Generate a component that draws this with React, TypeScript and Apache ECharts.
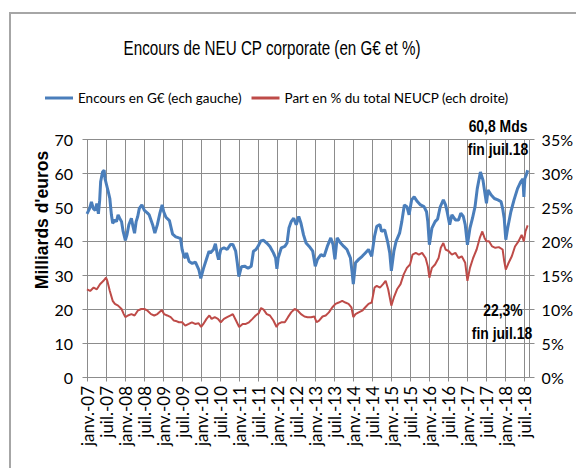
import React, { useEffect, useRef } from "react";
import * as echarts from "echarts";

// Months since January 2007 (0 = janv.-07)
const encoursMonths = [
  0, 0.8, 1.4, 2.0, 2.6, 3.1, 3.6, 4.0, 4.3, 4.9, 5.4, 5.7, 6.2, 6.7, 7.2, 7.7, 8.1, 8.8, 9.3, 9.8,
  10.3, 10.9, 11.4, 12.1, 12.6, 13.2, 14.0, 14.5, 15.0, 15.5, 16.0, 16.5, 17.3, 18.1, 19.1, 19.6,
  20.7, 21.4, 22.2, 23.0, 23.7, 24.2, 24.9, 26.0, 27.0, 28.0, 29.0, 29.5, 30.0, 30.6, 31.0, 31.4,
  32.2, 33.2, 34.2, 35.3, 35.9, 36.7, 37.8, 38.5, 38.9, 39.9, 40.5, 41.1, 41.5, 42.2, 43.2, 44.2,
  45.3, 46.0, 46.9, 47.4, 47.9, 48.7, 49.7, 50.8, 51.8, 52.5, 53.3, 54.0, 54.8, 55.7, 56.7, 57.7,
  58.8, 59.5, 59.9, 60.3, 61.3, 62.4, 63.1, 63.7, 64.4, 65.2, 66.0, 66.8, 67.5, 68.3, 69.1, 70.1,
  71.2, 72.0, 72.7, 73.8, 74.8, 75.8, 76.9, 77.6, 78.2, 78.9, 80.0, 81.0, 82.0, 83.1, 83.6, 84.0,
  84.7, 85.7, 86.8, 87.8, 88.8, 89.8, 90.7, 91.4, 92.4, 92.9, 93.9, 94.8, 95.5, 96.0, 96.8, 97.5,
  98.6, 99.3, 100.1, 100.9, 101.6, 102.4, 103.2, 104.2, 105.2, 106.3, 107.1, 107.5, 108.0, 108.8,
  109.8, 110.6, 111.4, 112.4, 113.1, 113.6, 114.4, 115.1, 116.2, 117.2, 117.9, 118.7, 119.3, 120.0,
  120.8, 121.6, 122.4, 123.1, 124.1, 124.9, 125.6, 126.0, 126.5, 127.5, 128.5, 129.6, 130.6, 131.1,
  131.6, 132.1, 132.7, 133.7, 134.7, 135.8, 136.8, 137.5, 137.8, 138.1, 138.6, 139.0,
];
// Encours en G€ (left scale)
const encoursValues = [
  48, 49.5, 51.5, 49.5, 49, 51, 48, 52, 57.4, 60.3, 60.8, 58.3, 56.4, 54.5, 52.5, 47.7, 45.2, 46.2, 45.7, 47.7,
  46.7, 45.7, 42.8, 40.2, 41.8, 44.8, 46.7, 44.3, 42.3, 45.7, 47.2, 49.6, 50.6, 49, 48.2, 47.7,
  44.8, 42.3, 44.8, 48.2, 50.6, 48.6, 47, 46, 42, 41.2, 40.9, 40.8, 37.5, 35.5, 35, 36.5,
  34, 33.4, 33.8, 31.5, 29, 31.8, 35, 37, 36.5, 37.5, 39.2, 36, 34.5, 37.5, 38, 37.5,
  39, 39, 37, 33.6, 29.5, 32.4, 32.6, 32, 32.6, 37, 37.5, 38.5, 40, 40.2, 39.4, 38.4,
  36.5, 35, 31.8, 35, 38, 38.4, 39.4, 43.8, 45.7, 46.7, 44.8, 47.2, 45.2, 41.8, 39.4, 38.4,
  37, 32.6, 34.6, 36, 35.5, 38.4, 40.9, 39, 34.6, 40.9, 39.4, 38.4, 37.5, 35, 31, 27.3,
  33.6, 34.6, 35.5, 36.5, 37.5, 35.5, 41.4, 44.3, 44.8, 42.8, 43.3, 39.9, 36.5, 31.2, 37, 39.9,
  42.3, 45.7, 50.6, 50.1, 47.7, 52.1, 53, 51.6, 50.6, 50.1, 48.6, 45.7, 38.9, 43.8,
  45.7, 46.5, 50, 52.1, 50.6, 48.6, 44.8, 47.7, 46.2, 46.2, 48.2, 47.2, 44.8, 38.9,
  43.8, 46.7, 50.1, 55.4, 60.3, 57.9, 53.5, 51.1, 55, 53.5, 52.5, 52.1, 51.6, 49.6,
  46.7, 40.4, 43.8, 48.6, 52.1, 55.4, 57.4, 58.3, 53, 58.3, 59.5, 60.8,
];

const partMonths = [
  0, 1, 2.1, 3.1, 4.1, 5.2, 6.0, 6.4, 7.2, 8.1, 8.8, 9.8, 10.9, 11.6, 12.1, 12.9, 14, 15, 16, 17.1,
  18.1, 19.1, 20.2, 21.2, 22.2, 23.6, 24.3, 25.3, 26.4, 27.4, 28, 29, 30, 31, 32.1, 33.1, 34.1, 35.2,
  36, 36.7, 37.7, 38.6, 39.3, 40.3, 41.3, 42.2, 43.2, 44.2, 45.3, 46, 47, 48, 49.1, 50.1, 51.1, 52.2,
  53.2, 54.2, 54.9, 55.7, 56.7, 57.7, 58.8, 59.8, 60.3, 61.3, 62.4, 63.4, 64.4, 65.5, 66.5, 67.5,
  68.6, 69.6, 70.7, 71.7, 72.4, 73.2, 74.3, 75.3, 76.3, 77.4, 78.4, 79.4, 80.5, 81.5, 82.5, 83.4,
  84, 84.7, 85.7, 86.8, 87.8, 88.8, 89.8, 90.7, 91.4, 92.4, 93.4, 94.2, 95, 96, 96.8, 97.8, 98.9,
  99.9, 100.9, 101.9, 102.7, 103.7, 104.7, 105.7, 106.8, 107.5, 108, 108.8, 109.8, 110.9, 111.6,
  112.4, 113.1, 114.1, 115.1, 116.2, 117.2, 118.2, 119.3, 120, 120.8, 121.8, 122.9, 123.9, 124.7,
  125.4, 126, 126.8, 127.8, 128.8, 129.9, 131.1, 131.6, 132.1, 133, 134, 135, 136.1, 137.1, 137.8,
  138.3, 139,
];
// Part en % du total NEUCP (right scale)
const partValues = [
  12.9, 12.65, 13.15, 12.9, 13.65, 14.15, 14.6, 14.15, 12.65, 11.2, 10.75, 10.5, 10, 9.25, 8.8, 9.05, 9.25, 9.05, 9.75, 10,
  10, 9.75, 9.25, 9.05, 9.25, 9.85, 9.25, 9.05, 8.8, 8.3, 8.25, 8.05, 8.05, 7.55, 7.8, 8.05, 7.8, 7.9,
  7.35, 7.8, 8.55, 9.05, 8.55, 8.8, 8.55, 8.05, 8.55, 8.8, 9.05, 9.25, 8.3, 7.35, 7.8, 7.8, 8.05, 8.55,
  9.05, 9.4, 10.15, 9.9, 9.25, 9.05, 8.3, 7.35, 7.8, 8.05, 8.05, 8.8, 9.5, 10, 9.75, 9.25,
  8.9, 8.8, 8.8, 8.9, 8.05, 8.3, 8.9, 9.05, 9.5, 10.25, 10.75, 10.95, 11.2, 10.95, 10.75, 10.25,
  8.8, 9.25, 9.5, 9.75, 10.25, 10.75, 10.95, 13.15, 13.4, 13.15, 13.65, 14.15, 12.9, 10.5, 11.7, 12.9, 13.65,
  15.1, 16.05, 16.55, 18, 18.25, 18, 18.25, 17.5, 16.3, 14.6, 16.05, 16.55, 17.5, 19,
  19.7, 18.75, 18.5, 18, 18.25, 17.5, 17.75, 16.8, 14.15, 16.05, 17.5, 18.75, 20.45, 21.4,
  20.45, 19.95, 19.95, 19.2, 19, 19.1, 18.75, 17.05, 15.8, 16.8, 17.75, 19.2, 19.95, 20.9, 19.95,
  21.4, 22.3,
];

const xTickLabels = [
  "janv.-07", "juil.-07", "janv.-08", "juil.-08", "janv.-09", "juil.-09", "janv.-10", "juil.-10",
  "janv.-11", "juil.-11", "janv.-12", "juil.-12", "janv.-13", "juil.-13", "janv.-14", "juil.-14",
  "janv.-15", "juil.-15", "janv.-16", "juil.-16", "janv.-17", "juil.-17", "janv.-18", "juil.-18",
];
const leftTicks = [0, 10, 20, 30, 40, 50, 60, 70];

const X_MAX = 139.3;
const FONT = "Lato, sans-serif";
const GFONT = "Liberation Sans, Arial, sans-serif";
const GRID_COLOR = "#8c8c8c";

export default function App() {
  const ref = useRef<HTMLDivElement>(null);
  useEffect(() => {
    if (!ref.current) return;
    const chart = echarts.init(ref.current, undefined, { renderer: "svg" });
    const note = (text: string, x: number, y: number) => ({
      type: "text",
      x,
      y,
      scaleX: 0.87,
      z: 20,
      style: {
        text,
        fontFamily: GFONT,
        fontSize: 16,
        fontWeight: "bold",
        fill: "#000",
        textAlign: "center",
        textVerticalAlign: "middle",
      },
    });
    const baseGraphics: any[] = [
      {
        type: "rect",
        z: 20,
        silent: true,
        shape: { x: 10, y: 13, width: 620, height: 520 },
        style: { fill: "rgba(0,0,0,0)", stroke: "#a6a6a6", lineWidth: 2 },
      },
      {
        type: "text",
        x: 272,
        y: 48,
        scaleX: 0.76,
        z: 20,
        style: {
          text: "Encours de NEU CP corporate (en G€ et %)",
          fontFamily: GFONT,
          fontSize: 20,
          fill: "#000",
          textAlign: "center",
          textVerticalAlign: "middle",
        },
      },
      {
        type: "text",
        x: 42,
        y: 220,
        rotation: Math.PI / 2,
        z: 20,
        style: {
          text: "Milliards d'euros",
          fontFamily: GFONT,
          fontSize: 17.5,
          fontWeight: "bold",
          fill: "#000",
          textAlign: "center",
          textVerticalAlign: "middle",
        },
      },
      note("60,8 Mds", 498, 126),
      note("fin juil.18", 498, 149),
      note("22,3%", 503, 310),
      note("fin juil.18", 502, 333),
    ];
    chart.setOption({
      animation: false,
      backgroundColor: "#ffffff",
      legend: {
        left: 45,
        top: 91,
        padding: 0,
        itemWidth: 28,
        itemHeight: 3,
        itemGap: 10,
        icon: "rect",
        textStyle: { fontFamily: FONT, fontSize: 13.5, color: "#000" },
        data: ["Encours en G€ (ech gauche)", "Part en % du total NEUCP (ech droite)"],
      },
      grid: { left: 87, right: 40, top: 139, bottom: 91 },
      xAxis: {
        type: "value",
        position: "bottom",
        min: 0,
        max: X_MAX,
        interval: 6,
        axisLine: { show: false },
        axisTick: { show: false },
        splitLine: { show: false },
        axisLabel: {
          rotate: 90,
          margin: 9,
          fontSize: 17,
          fontFamily: FONT,
          color: "#000",
          showMaxLabel: false,
          formatter: (v: number) => {
            const i = Math.round(v / 6);
            if (Math.abs(v - i * 6) > 0.01) return "";
            return xTickLabels[i] || "";
          },
        },
      },
      yAxis: [
        {
          type: "value",
          position: "left",
          min: 0,
          max: 70,
          interval: 10,
          axisLine: { show: false },
          axisTick: { show: false },
          splitLine: { show: false },
          axisLabel: { fontSize: 16, fontFamily: FONT, color: "#000", margin: 14 },
        },
        {
          type: "value",
          position: "right",
          min: 0,
          max: 35,
          interval: 5,
          axisLine: { show: false },
          axisTick: { show: false },
          splitLine: { show: false },
          axisLabel: { fontSize: 16, fontFamily: FONT, color: "#000", margin: 13, formatter: "{value}%" },
        },
      ],
      series: [
        {
          name: "Encours en G€ (ech gauche)",
          type: "line",
          xAxisIndex: 0,
          yAxisIndex: 0,
          showSymbol: false,
          symbol: "none",
          color: "#4a7ebb",
          lineStyle: { width: 3, color: "#4a7ebb" },
          data: encoursMonths.map((m, i) => [m, encoursValues[i]]),
        },
        {
          name: "Part en % du total NEUCP (ech droite)",
          type: "line",
          xAxisIndex: 0,
          yAxisIndex: 1,
          showSymbol: false,
          symbol: "none",
          color: "#be4b48",
          lineStyle: { width: 2, color: "#be4b48" },
          data: partMonths.map((m, i) => [m, partValues[i]]),
        },
      ],
      graphic: baseGraphics,
    });

    // Grid lines, axis lines and ticks, placed through the chart's own scales.
    const toPx = (m: number, v: number): number[] =>
      chart.convertToPixel({ xAxisIndex: 0, yAxisIndex: 0 }, [m, v]) as number[];
    const snap = (p: number) => Math.round(p) + 0.5;
    const [xLeft, yBottom] = toPx(0, 0);
    const [xRight, yTop] = toPx(X_MAX, 70);
    const line = (x1: number, y1: number, x2: number, y2: number) => ({
      type: "line",
      silent: true,
      z: 2,
      z2: -10,
      shape: { x1, y1, x2, y2 },
      style: { stroke: GRID_COLOR, lineWidth: 1 },
    });
    const gridLines: any[] = [];
    xTickLabels.forEach((_, i) => {
      const x = snap(toPx(i * 6, 0)[0]);
      gridLines.push(line(x, snap(yTop), x, snap(yBottom) + 4));
    });
    const xr = snap(xRight);
    gridLines.push(line(xr, snap(yTop), xr, snap(yBottom)));
    leftTicks.forEach((v) => {
      const y = snap(toPx(0, v)[1]);
      gridLines.push(line(snap(xLeft) - 5, y, xr, y));
      gridLines.push(line(xr, y, xr + 5, y));
    });
    chart.setOption({ graphic: baseGraphics.concat(gridLines) });

    return () => chart.dispose();
  }, []);
  return (
    <div
      ref={ref}
      style={{ position: "absolute", left: 0, top: 0, width: 576, height: 468 }}
    />
  );
}
